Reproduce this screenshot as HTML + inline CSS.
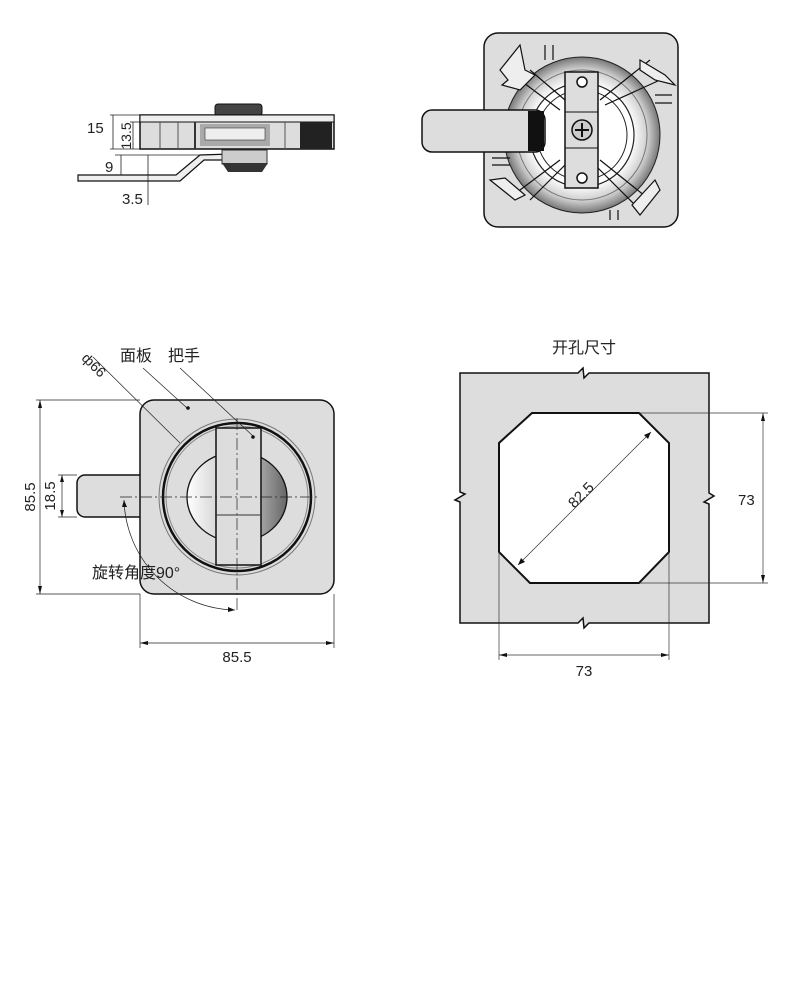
<!DOCTYPE html>
<html><head><meta charset="utf-8"><style>
html,body{margin:0;padding:0;background:#fff;}
svg{display:block;}
text{font-family:"Liberation Sans","Noto Sans CJK SC",sans-serif;fill:#222;}
</style></head><body>
<svg width="788" height="1000" viewBox="0 0 788 1000" xmlns="http://www.w3.org/2000/svg">
<defs>
<linearGradient id="g1" x1="0" x2="1"><stop offset="0" stop-color="#fff"/><stop offset="1" stop-color="#bbb"/></linearGradient>
<linearGradient id="g2" x1="0" x2="1"><stop offset="0" stop-color="#ddd"/><stop offset="1" stop-color="#666"/></linearGradient>
<radialGradient id="rg"><stop offset="0.65" stop-color="#fff"/><stop offset="0.85" stop-color="#ccc"/><stop offset="1" stop-color="#777"/></radialGradient>
</defs>

<!-- ===== Side view ===== -->
<rect x="215" y="104" width="47" height="12" rx="3" fill="#444" stroke="#111"/>
<rect x="140" y="115" width="194" height="34" fill="#ddd" stroke="#111" stroke-width="1.5"/>
<rect x="140" y="115" width="194" height="7" fill="#eee" stroke="#111"/>
<rect x="300" y="122" width="32" height="27" fill="#222"/>
<rect x="200" y="124" width="70" height="22" fill="#aaa"/>
<rect x="205" y="128" width="60" height="12" fill="#eee" stroke="#333" stroke-width="0.6"/>
<line x1="160" y1="122" x2="160" y2="149" stroke="#555"/>
<line x1="178" y1="122" x2="178" y2="149" stroke="#555"/>
<line x1="195" y1="122" x2="195" y2="149" stroke="#333" stroke-width="2"/>
<line x1="285" y1="122" x2="285" y2="149" stroke="#555"/>
<path d="M78 175 L176 175 L200 155 L262 153 L262 160 L204 160 L180 181 L78 181 Z" fill="#eee" stroke="#111" stroke-width="1.2"/>
<rect x="222" y="150" width="45" height="14" fill="#ccc" stroke="#333"/>
<path d="M222 163 L268 163 L262 172 L228 172 Z" fill="#333"/>
<g stroke="#222" stroke-width="0.8" fill="none">
<line x1="110" y1="115" x2="140" y2="115"/><line x1="110" y1="149" x2="140" y2="149"/>
<line x1="113" y1="115" x2="113" y2="149"/><line x1="130" y1="122" x2="140" y2="122"/><line x1="133" y1="122" x2="133" y2="149"/>
<line x1="115" y1="155" x2="200" y2="155"/><line x1="121" y1="155" x2="121" y2="175"/>
<line x1="148" y1="155" x2="148" y2="205"/>
</g>
<text x="87" y="133" font-size="15">15</text>
<text x="126" y="141" font-size="14" transform="rotate(-90 126 136)" text-anchor="middle">13.5</text>
<text x="105" y="172" font-size="15">9</text>
<text x="122" y="204" font-size="15">3.5</text>

<!-- ===== Top-right view ===== -->
<rect x="484" y="33" width="194" height="194" rx="14" fill="#ddd" stroke="#111" stroke-width="1.5"/>
<circle cx="582" cy="135" r="78" fill="url(#rg)" stroke="#222"/>
<circle cx="582" cy="135" r="65" fill="none" stroke="#777"/>
<circle cx="582" cy="135" r="52" fill="none" stroke="#222" stroke-width="1.2"/>
<circle cx="582" cy="135" r="45" fill="none" stroke="#222"/>
<g stroke="#111" stroke-width="1.2" fill="none">
<line x1="520" y1="80" x2="560" y2="110"/><line x1="530" y1="70" x2="565" y2="100"/>
<line x1="600" y1="100" x2="650" y2="60"/><line x1="605" y1="105" x2="660" y2="80"/>
<line x1="600" y1="160" x2="650" y2="200"/><line x1="595" y1="165" x2="640" y2="210"/>
<line x1="520" y1="190" x2="560" y2="160"/><line x1="530" y1="200" x2="565" y2="165"/>
<path d="M520 45 L500 70 L508 80 L502 85 L520 90 L535 75 L525 70 Z" fill="#eee"/>
<path d="M640 60 L665 75 L675 85 L655 80 L640 70 Z" fill="#eee"/>
<path d="M660 190 L640 215 L632 205 L655 180 Z" fill="#eee"/>
<path d="M490 180 L515 200 L525 195 L505 178 Z" fill="#eee"/>
<path d="M545 45 L545 60 M553 45 L553 60"/><path d="M610 210 L610 220 M618 210 L618 220"/>
<path d="M655 95 L672 95 M655 103 L672 103"/><path d="M492 158 L510 158 M492 165 L510 165"/>
</g>
<rect x="422" y="110" width="123" height="42" rx="10" fill="#ddd" stroke="#111" stroke-width="1.5"/>
<rect x="528" y="111" width="16" height="40" fill="#111"/>
<rect x="565" y="72" width="33" height="116" fill="#ddd" stroke="#111" stroke-width="1.5"/>
<line x1="565" y1="112" x2="598" y2="112" stroke="#111"/><line x1="565" y1="148" x2="598" y2="148" stroke="#111"/>
<circle cx="582" cy="82" r="5" fill="#fff" stroke="#111" stroke-width="1.5"/>
<circle cx="582" cy="178" r="5" fill="#fff" stroke="#111" stroke-width="1.5"/>
<circle cx="582" cy="130" r="10" fill="#ccc" stroke="#111" stroke-width="1.5"/>
<path d="M575 130 H589 M582 123 V137" stroke="#111" stroke-width="2"/>

<!-- ===== Front view ===== -->
<rect x="77" y="475" width="70" height="42" rx="8" fill="#ddd" stroke="#111" stroke-width="1.5"/>
<rect x="140" y="400" width="194" height="194" rx="14" fill="#ddd" stroke="#111" stroke-width="1.5"/>
<circle cx="237" cy="497" r="78" fill="none" stroke="#777"/>
<circle cx="237" cy="497" r="74" fill="#ddd" stroke="#111" stroke-width="2.5"/>
<circle cx="237" cy="497" r="71" fill="none" stroke="#888"/>
<path d="M237 452 A50 45 0 0 0 237 542 Z" fill="url(#g1)" stroke="#111" stroke-width="1.3"/>
<path d="M237 452 A50 45 0 0 1 237 542 Z" fill="url(#g2)" stroke="#111" stroke-width="1.3"/>
<rect x="216" y="428" width="45" height="137" fill="#ddd" stroke="#111" stroke-width="1.5"/>
<line x1="216" y1="515" x2="261" y2="515" stroke="#333"/>
<g stroke="#222" stroke-width="0.7" fill="none">
<line x1="237" y1="418" x2="237" y2="612" stroke-dasharray="12 3 2 3"/>
<line x1="120" y1="497" x2="318" y2="497" stroke-dasharray="12 3 2 3"/>
<line x1="93" y1="357" x2="180" y2="443"/>
<line x1="143" y1="368" x2="187" y2="408"/>
<line x1="180" y1="368" x2="253" y2="436"/>
<line x1="36" y1="400" x2="140" y2="400"/><line x1="36" y1="594" x2="140" y2="594"/>
<line x1="40" y1="400" x2="40" y2="594"/>
<line x1="58" y1="475" x2="77" y2="475"/><line x1="58" y1="517" x2="77" y2="517"/>
<line x1="62" y1="475" x2="62" y2="517"/>
<line x1="140" y1="594" x2="140" y2="648"/><line x1="334" y1="594" x2="334" y2="648"/>
<line x1="140" y1="643" x2="334" y2="643"/>
<path d="M124 500 A113 113 0 0 0 235 610"/>
</g>
<circle cx="188" cy="408" r="1.8" fill="#111"/><circle cx="253" cy="437" r="1.8" fill="#111"/>
<g fill="#111">
<path d="M40 400 l-2 8 h4z"/><path d="M40 594 l-2 -8 h4z"/>
<path d="M62 475 l-2 7 h4z"/><path d="M62 517 l-2 -7 h4z"/>
<path d="M140 643 l8 -2 v4z"/><path d="M334 643 l-8 -2 v4z"/>
<path d="M124 500 l-2 7 h5z"/><path d="M235 610 l-7 -3 v5z"/>
</g>
<text x="78" y="366" font-size="14" transform="rotate(45 88 366)">ф66</text>
<text x="120" y="361" font-size="16">面板</text>
<text x="168" y="361" font-size="16">把手</text>
<text x="35" y="497" font-size="15" transform="rotate(-90 35 497)" text-anchor="middle">85.5</text>
<text x="55" y="496" font-size="15" transform="rotate(-90 55 496)" text-anchor="middle">18.5</text>
<text x="92" y="578" font-size="16">旋转角度90°</text>
<text x="237" y="662" font-size="15" text-anchor="middle">85.5</text>

<!-- ===== Cutout ===== -->
<text x="584" y="353" font-size="16" text-anchor="middle">开孔尺寸</text>
<path d="M460 373 H578 L583 368 L584 378 L589 373 H709 V493 L714 496 L704 502 L709 504 V623 H589 L584 628 L583 618 L578 623 H460 V502 L455 500 L465 494 L460 492 Z" fill="#ddd" stroke="#111" stroke-width="1.5"/>
<path d="M532 413 H639 L669 443 V552 L639 583 H530 L499 552 V443 Z" fill="#fff" stroke="#111" stroke-width="2"/>
<g stroke="#333" stroke-width="0.7" fill="none">
<line x1="518" y1="565" x2="651" y2="432"/>
<line x1="639" y1="413" x2="768" y2="413"/><line x1="639" y1="583" x2="768" y2="583"/>
<line x1="763" y1="413" x2="763" y2="583"/>
<line x1="499" y1="552" x2="499" y2="660"/><line x1="669" y1="552" x2="669" y2="660"/>
<line x1="499" y1="655" x2="669" y2="655"/>
</g>
<g fill="#111">
<path d="M763 413 l-2 8 h4z"/><path d="M763 583 l-2 -8 h4z"/>
<path d="M499 655 l8 -2 v4z"/><path d="M669 655 l-8 -2 v4z"/>
<path d="M651 432 l-7 3 l4 4z"/><path d="M518 565 l7 -3 l-4 -4z"/>
</g>
<text x="581" y="500" font-size="15" transform="rotate(-45 581 495)" text-anchor="middle">82.5</text>
<text x="738" y="505" font-size="15">73</text>
<text x="584" y="676" font-size="15" text-anchor="middle">73</text>
</svg>
</body></html>
